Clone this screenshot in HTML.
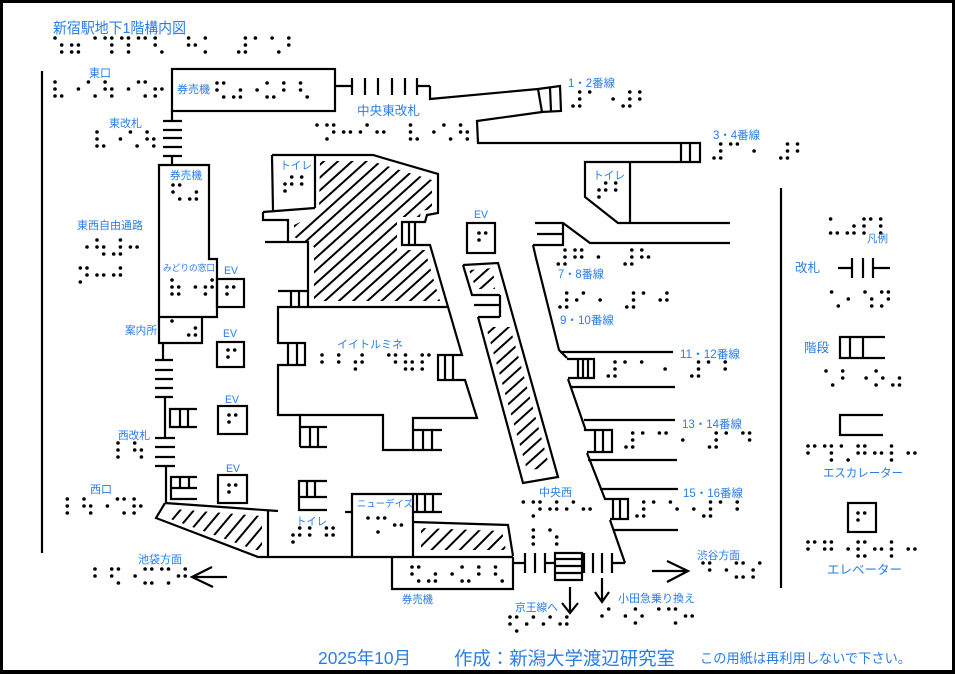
<!DOCTYPE html>
<html><head><meta charset="utf-8">
<style>
html,body{margin:0;padding:0;background:#fff;}
svg{display:block;}
text{font-family:"Liberation Sans","Noto Sans CJK JP",sans-serif;fill:#2a7de6;}
</style></head>
<body>
<svg width="955" height="674" viewBox="0 0 955 674" xmlns="http://www.w3.org/2000/svg">
<defs>
<pattern id="hA" patternUnits="userSpaceOnUse" width="30" height="9.5" patternTransform="rotate(-42)">
<line x1="0" y1="4" x2="30" y2="4" stroke="#000" stroke-width="2.1"/></pattern>
<pattern id="hB" patternUnits="userSpaceOnUse" width="30" height="9.5" patternTransform="rotate(-42)">
<line x1="0" y1="4" x2="30" y2="4" stroke="#000" stroke-width="2.1"/></pattern>
<pattern id="hC" patternUnits="userSpaceOnUse" width="30" height="10.5" patternTransform="rotate(-50)">
<line x1="0" y1="4" x2="30" y2="4" stroke="#000" stroke-width="2.1"/></pattern>
<pattern id="hD" patternUnits="userSpaceOnUse" width="30" height="10" patternTransform="rotate(-45)">
<line x1="0" y1="4" x2="30" y2="4" stroke="#000" stroke-width="2.1"/></pattern>
</defs>
<rect x="0" y="0" width="955" height="674" fill="#000"/>
<rect x="3" y="3" width="949" height="667" fill="#fff"/>

<!-- hatches -->
<polygon points="320,161 371,161 432,180 432,209 421,211 420,217 397,217 397,250 425,250 440,301 314,301 314,247 294,237 294,225 319,213" fill="url(#hA)"/>
<polygon points="486,327 510,327 550,468 527,470" fill="url(#hB)"/>
<polygon points="469,270 493,268 495,289 476,289" fill="url(#hB)"/>
<polygon points="174,509 262,516 262,550 255,550 165,517" fill="url(#hC)"/>
<polygon points="421,528 502,531 506,550 421,550" fill="url(#hD)"/>

<g fill="none" stroke="#000" stroke-width="2.2">
<path d="M42 71V553M781 188V588"/>
<rect x="172" y="69" width="163" height="42"/>
<path d="M335 86H352M430 86H417M352 78V95M365 78V95M378 78V95M392 78V95M405 78V95M417 78V95M430 86V99L538 89"/>
<path d="M538 89L560 86L561 111L542 112ZM550 88L551 111"/>
<path d="M542 112L477 121L478 143H700V162H585V197L618 223H730M681 143V162M690 143V162M630 163V223"/>
<path d="M535 223H563L590 243H730M537 234H562M533 245H563V223"/>
<path d="M533 245L536 258L559 350L567 358"/>
<path d="M560 352H673M567 359H594V378H568M578 359V378M583 359V378M588 359V378M571 387H675M568 379L585 428V430H612V452H587M584 420H675M595 430V452M603 430V452M588 460H677M587 453L605 499H628V519H610M600 489H678M613 499V519M620 499V519M613 530H678M610 520L625 563"/>
<path d="M513 563H525M525 553V573M535 553V573M545 553V573M545 563H555M555 553H582V580H555ZM555 559H582M555 566H582M555 573H582M582 563H584M584 553V573M593 553V573M602 553V573M612 553V573M612 563H625"/>
<path d="M192 577H227M212 567L192 577L213 587M652 571H688M667 561L688 571L667 582M570 587V613M562 603L570 613L578 603M602 578V602M595 592L602 602L609 592"/>
<rect x="467" y="223" width="28" height="30"/>
<rect x="217" y="279" width="27" height="28"/>
<rect x="217" y="342" width="27" height="25"/>
<rect x="218" y="406" width="29" height="28"/>
<rect x="218" y="475" width="29" height="28"/>
<rect x="848" y="503" width="28" height="29"/>
<path d="M463 265L498 263L558 477L523 483L478 317M463 265L472 295H500M474 305H500M478 317H500M500 295V317"/>
<path d="M263 212L315 208M272 155L273 211M315 155V208"/>
<path d="M263 212V220H288V242M265 242H308V307M278 291H308M291 291V307M299 291V307"/>
<path d="M272 155H373L438 174V213L427 215L425 222H402V245H430L462 355H438V380H465L477 418H413V450H383V415H300V447M409 222V245M415 222V245M445 355V380M453 355V380"/>
<path d="M300 427H327M310 427V447M318 427V447M300 447H327M300 415H278V365H305V343H278V307H447M288 343V365M297 343V365M413 430H442M423 430V450M432 430V450M413 450H442"/>
<path d="M172 111V120M163 121H182M163 130H182M163 138H182M163 147H182M163 156H182M172 156V165"/>
<path d="M159 165H209V259H217V317H159ZM159 317V343H202V317"/>
<path d="M163 343V360M155 360H173M155 370H173M155 379H173M155 388H173M155 397H173M165 397V438M155 438H175M155 447H175M155 457H175M155 466H175M166 466V502"/>
<path d="M197 409H170V427H197M180 409V427M188 409V427"/>
<path d="M197 477H171V499H197M171 488H197M180 477V488M189 477V488"/>
<path d="M165 503L278 511M165 503L156 518L258 557H513M268 511V557"/>
<path d="M345 512H352M352 557V494H442M413 494V557M413 512H442M417 494V512M425 494V512M433 494V512"/>
<path d="M413 522L508 525L513 556"/>
<path d="M392 557V589H513V557"/>
<path d="M327 481H299V510H327M299 497H327M307 481V497M315 481V497"/>
<path d="M838 268H852M852 258V278M863 258V278M873 258V278M873 268H890"/>
<path d="M885 337H840V358H885M850 337V358M863 337V358"/>
<path d="M883 415H840V435H883"/>
</g>

<g id="br" fill="#000"></g>

<!-- labels -->
<text x="53" y="33" font-size="15" textLength="133" lengthAdjust="spacingAndGlyphs">新宿駅地下1階構内図</text>
<text x="89" y="77" font-size="11.5" textLength="22" lengthAdjust="spacingAndGlyphs">東口</text>
<text x="177" y="93" font-size="11" textLength="33" lengthAdjust="spacingAndGlyphs">券売機</text>
<text x="357" y="115" font-size="12.5" textLength="63" lengthAdjust="spacingAndGlyphs">中央東改札</text>
<text x="109" y="127" font-size="11" textLength="33" lengthAdjust="spacingAndGlyphs">東改札</text>
<text x="170" y="179" font-size="11" textLength="32" lengthAdjust="spacingAndGlyphs">券売機</text>
<text x="77" y="229" font-size="11" textLength="66" lengthAdjust="spacingAndGlyphs">東西自由通路</text>
<text x="163" y="271" font-size="9" textLength="52" lengthAdjust="spacingAndGlyphs">みどりの窓口</text>
<text x="224" y="274" font-size="11" textLength="14" lengthAdjust="spacingAndGlyphs">EV</text>
<text x="125" y="334" font-size="11" textLength="32" lengthAdjust="spacingAndGlyphs">案内所</text>
<text x="223" y="337" font-size="11" textLength="14" lengthAdjust="spacingAndGlyphs">EV</text>
<text x="280" y="169" font-size="11" textLength="32" lengthAdjust="spacingAndGlyphs">トイレ</text>
<text x="474" y="218" font-size="11" textLength="14" lengthAdjust="spacingAndGlyphs">EV</text>
<text x="568" y="87" font-size="11.5" textLength="47" lengthAdjust="spacingAndGlyphs">1・2番線</text>
<text x="713" y="139" font-size="11.5" textLength="47" lengthAdjust="spacingAndGlyphs">3・4番線</text>
<text x="593" y="179" font-size="11" textLength="32" lengthAdjust="spacingAndGlyphs">トイレ</text>
<text x="558" y="278" font-size="11.5" textLength="46" lengthAdjust="spacingAndGlyphs">7・8番線</text>
<text x="560" y="324" font-size="11.5" textLength="54" lengthAdjust="spacingAndGlyphs">9・10番線</text>
<text x="680" y="358" font-size="11.5" textLength="60" lengthAdjust="spacingAndGlyphs">11・12番線</text>
<text x="682" y="428" font-size="11.5" textLength="60" lengthAdjust="spacingAndGlyphs">13・14番線</text>
<text x="683" y="497" font-size="11.5" textLength="60" lengthAdjust="spacingAndGlyphs">15・16番線</text>
<text x="697" y="559" font-size="11" textLength="43" lengthAdjust="spacingAndGlyphs">渋谷方面</text>
<text x="618" y="602" font-size="11" textLength="77" lengthAdjust="spacingAndGlyphs">小田急乗り換え</text>
<text x="515" y="611" font-size="11" textLength="43" lengthAdjust="spacingAndGlyphs">京王線へ</text>
<text x="539" y="496" font-size="11" textLength="33" lengthAdjust="spacingAndGlyphs">中央西</text>
<text x="337" y="348" font-size="11" textLength="66" lengthAdjust="spacingAndGlyphs">イイトルミネ</text>
<text x="225" y="403" font-size="11" textLength="14" lengthAdjust="spacingAndGlyphs">EV</text>
<text x="118" y="439" font-size="11" textLength="32" lengthAdjust="spacingAndGlyphs">西改札</text>
<text x="226" y="472" font-size="11" textLength="14" lengthAdjust="spacingAndGlyphs">EV</text>
<text x="90" y="493" font-size="11" textLength="22" lengthAdjust="spacingAndGlyphs">西口</text>
<text x="138" y="563" font-size="11" textLength="44" lengthAdjust="spacingAndGlyphs">池袋方面</text>
<text x="296" y="525" font-size="11" textLength="31" lengthAdjust="spacingAndGlyphs">トイレ</text>
<text x="357" y="507" font-size="9.5" textLength="56" lengthAdjust="spacingAndGlyphs">ニューデイズ</text>
<text x="402" y="603" font-size="11" textLength="31" lengthAdjust="spacingAndGlyphs">券売機</text>
<text x="867" y="242" font-size="10.5" textLength="21" lengthAdjust="spacingAndGlyphs">凡例</text>
<text x="795" y="272" font-size="12.5" textLength="25" lengthAdjust="spacingAndGlyphs">改札</text>
<text x="804" y="352" font-size="12.5" textLength="25" lengthAdjust="spacingAndGlyphs">階段</text>
<text x="823" y="477" font-size="12" textLength="80" lengthAdjust="spacingAndGlyphs">エスカレーター</text>
<text x="827" y="574" font-size="12.5" textLength="75" lengthAdjust="spacingAndGlyphs">エレベーター</text>
<text x="318" y="664" font-size="17.5" textLength="93" lengthAdjust="spacingAndGlyphs">2025年10月</text>
<text x="454" y="665" font-size="18.5" textLength="221" lengthAdjust="spacingAndGlyphs">作成：新潟大学渡辺研究室</text>
<text x="700" y="663" font-size="13.4" textLength="211" lengthAdjust="spacingAndGlyphs">この用紙は再利用しないで下さい。</text>
</svg>
<script>
(function(){
var B=[
[55,38,"156 2356 4 1456 1456 14 126 0 125 13 0 3456 1 16 12"],
[55,82,"1236 5 16 1256 5 146 235"],
[217,83,"1246 356 5 136 12 126"],
[310.3,125,"4 1345 25 24 25 0 1236 5 16 1256"],
[97,132,"1236 5 16 1256"],
[173,185,"1246 356"],
[80.3,240,"5 1256 3456 25"],
[80.3,268,"1345 25 245"],
[172,280,"12356 5 2345"],
[172,321,"1 356"],
[322,355,"12 12 2345 0 145 12356 1234"],
[573,92,"3456 1 5 3456 12"],
[714,144,"3456 14 5 0 3456 12"],
[599,183,"2345 12"],
[285,177,"2345 12"],
[293,528,"2345 12 1245"],
[361.3,518,"4 134 25"],
[412,567,"1246 356 5 136 12 126"],
[516.6,502,"4 1345 245 24 25"],
[533.3,530,"123 156"],
[626,433,"3456 1 14 5 0 3456 1 145"],
[637,502,"3456 1 15 5 3456 1 12"],
[608.3,362,"3456 1 1 5 0 3456 1 12"],
[558.3,250,"3456 1245 5 0 3456 125"],
[560,293,"3456 24 5 0 3456 1 245"],
[118,443,"123 1256"],
[67.3,499,"123 1256 5 146 1235"],
[95,569,"12 1246 5 1346 146 245"],
[703,563,"145 5 1346 234"],
[510,617,"1246 24 24 245"],
[602,609,"24 5 135 4 146 25"],
[830.6,219,"136 356 1234 123"],
[831.6,292,"16 2 156 1345"],
[826,371,"16 12 5 135 356"],
[808,446,"124 1456 16 1245 25 123 25"],
[808,542,"124 1245 5 12346 25 123 25"],
[227,287,"124"],[228,350,"124"],[229,415,"124"],[229,485,"124"],[479,233,"124"],[858,513,"124"]
];
var P=16.7,D=6.7,R=7,s='';
B.forEach(function(g){
 g[2].split(' ').forEach(function(c,k){
  for(var i=0;i<c.length;i++){var n=+c[i];if(!n)continue;
   var col=n>3?1:0,row=(n-1)%3;
   s+='<circle cx="'+(g[0]+k*P+col*D).toFixed(1)+'" cy="'+(g[1]+row*R).toFixed(1)+'" r="1.8"/>';}
 });
});
document.getElementById('br').innerHTML=s;
})();
</script>
</body></html>
